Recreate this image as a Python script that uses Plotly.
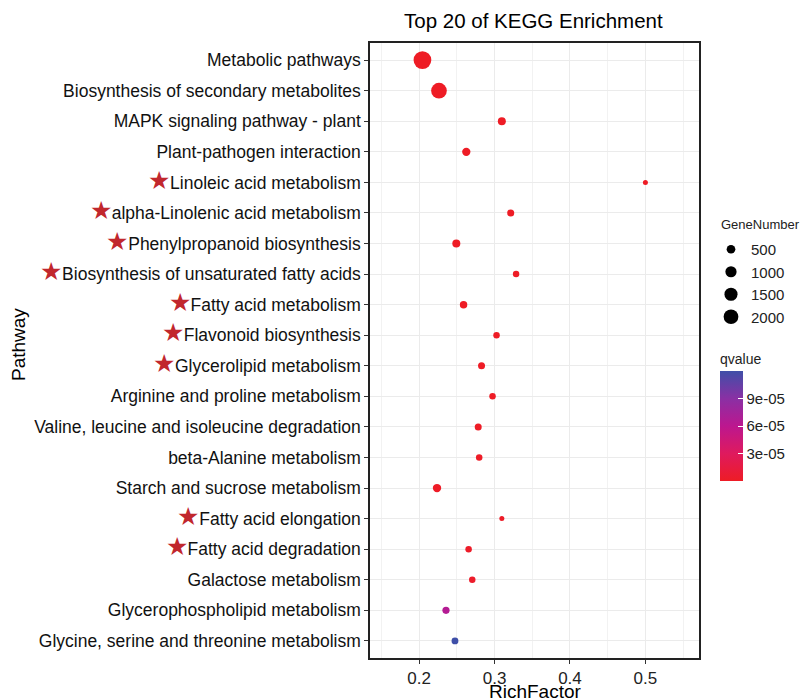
import plotly.graph_objects as go
import math

pathways = [
    "Metabolic pathways",
    "Biosynthesis of secondary metabolites",
    "MAPK signaling pathway - plant",
    "Plant-pathogen interaction",
    "Linoleic acid metabolism",
    "alpha-Linolenic acid metabolism",
    "Phenylpropanoid biosynthesis",
    "Biosynthesis of unsaturated fatty acids",
    "Fatty acid metabolism",
    "Flavonoid biosynthesis",
    "Glycerolipid metabolism",
    "Arginine and proline metabolism",
    "Valine, leucine and isoleucine degradation",
    "beta-Alanine metabolism",
    "Starch and sucrose metabolism",
    "Fatty acid elongation",
    "Fatty acid degradation",
    "Galactose metabolism",
    "Glycerophospholipid metabolism",
    "Glycine, serine and threonine metabolism",
]
starred = [False, False, False, False, True, True, True, True, True, True, True,
           False, False, False, False, True, True, False, False, False]
rich_factor = [0.2045, 0.2264, 0.3097, 0.2626, 0.5, 0.3215, 0.2494, 0.3286, 0.259,
               0.3027, 0.2828, 0.2974, 0.2784, 0.2797, 0.2238, 0.3097, 0.2657,
               0.2705, 0.2357, 0.2476]
gene_number = [3150, 2350, 390, 435, 83, 260, 390, 205, 320, 205, 260, 205, 260,
               205, 440, 83, 205, 205, 280, 240]
qvalue = [1e-30, 1e-20, 1e-12, 1e-10, 1e-9, 1e-8, 1e-8, 1e-7, 1e-7, 2e-7, 3e-7,
          4e-7, 6e-7, 8e-7, 1e-6, 1.5e-6, 2e-6, 3e-6, 6.5e-05, 1.2e-04]
legend_sizes = [500, 1000, 1500, 2000]
q_ticks = [3e-05, 6e-05, 9e-05]
q_ticktext = ["3e-05", "6e-05", "9e-05"]
x_ticks = [0.2, 0.3, 0.4, 0.5]


def diam(v):
    return 2.9 + 0.265 * math.sqrt(max(v - 20, 0))


FONT = "Liberation Sans, Arial, sans-serif"
L, R, T, B = 370, 104, 43, 40
W, H = 803, 698
pw, ph = W - L - R, H - T - B

def px_x(p):
    return (p - L) / pw

def px_y(p):
    return (H - B - p) / ph

ticktext = []
for name, s in zip(pathways, starred):
    if s:
        ticktext.append('<span style="color:#C1272D;font-size:25px">★</span>' + name)
    else:
        ticktext.append(name)

colorscale = [[0, "#EE1C25"], [0.25, "#DF1A5E"], [0.5, "#BC178F"],
              [0.75, "#8A30A4"], [1, "#3F4FA8"]]

fig = go.Figure()
fig.add_trace(go.Scatter(
    x=rich_factor, y=list(range(len(pathways))), mode="markers",
    marker=dict(size=[diam(g) for g in gene_number], color=qvalue, opacity=1,
                colorscale=colorscale, cmin=0, cmax=1.2e-4,
                line=dict(width=0),
                colorbar=dict(title=dict(text="qvalue", side="top",
                                         font=dict(size=14, family=FONT, color="#222")),
                              x=px_x(720), xanchor="left", y=px_y(481), yanchor="bottom",
                              len=131, lenmode="pixels", thickness=23,
                              outlinewidth=0, tickvals=q_ticks, ticktext=q_ticktext,
                              ticks="inside", tickcolor="white", ticklen=5,
                              ypad=0, xpad=0,
                              tickfont=dict(size=15, family=FONT, color="#222"))),
    showlegend=False, hoverinfo="skip"))

for i, s in enumerate(legend_sizes):
    fig.add_trace(go.Scatter(
        x=[None], y=[None], mode="markers", name=str(s), legendgroup=str(i),
        marker=dict(size=diam(s), color="black"), showlegend=True))

fig.update_layout(
    width=W, height=H, margin=dict(l=L, r=R, t=T, b=B, autoexpand=False),
    paper_bgcolor="white", plot_bgcolor="white",
    font=dict(family=FONT, color="black"),
    legend=dict(x=px_x(711), xanchor="left", y=px_y(233), yanchor="top",
                itemsizing="trace", tracegroupgap=0,
                font=dict(size=15, family=FONT, color="#222"), bgcolor="rgba(0,0,0,0)"),
    xaxis=dict(range=[0.135, 0.571], tickvals=x_ticks, ticktext=[str(t) for t in x_ticks],
               showgrid=True, gridcolor="#EBEBEB", gridwidth=1,
               minor=dict(dtick=0.05, tick0=0.15, showgrid=True, gridcolor="#F2F2F2", gridwidth=1),
               showline=True, mirror=True, linecolor="#222", linewidth=1.5,
               ticks="outside", ticklen=4, tickcolor="#333",
               tickfont=dict(size=17, family=FONT, color="#222"), zeroline=False),
    yaxis=dict(range=[len(pathways) - 0.44, -0.56], tickvals=list(range(len(pathways))),
               ticktext=ticktext, showgrid=True, gridcolor="#EBEBEB", gridwidth=1,
               showline=True, mirror=True, linecolor="#222", linewidth=1.5,
               ticks="outside", ticklen=4, tickcolor="#333",
               tickfont=dict(size=17.5, family=FONT, color="#111"), zeroline=False),
    annotations=[
        dict(text="Top 20 of KEGG Enrichment", x=px_x(533), y=px_y(21), xref="paper",
             yref="paper", showarrow=False, xanchor="center", yanchor="middle",
             font=dict(size=20.5, family=FONT, color="black")),
        dict(text="GeneNumber", x=px_x(719), y=px_y(225), xref="paper", yref="paper",
             showarrow=False, xanchor="left", yanchor="middle",
             font=dict(size=13, family=FONT, color="#222")),
        dict(text="RichFactor", x=px_x(535), y=px_y(691), xref="paper", yref="paper",
             showarrow=False, xanchor="center", yanchor="middle",
             font=dict(size=19, family=FONT, color="black")),
        dict(text="Pathway", x=px_x(18), y=px_y(345), xref="paper", yref="paper",
             showarrow=False, xanchor="center", yanchor="middle", textangle=-90,
             font=dict(size=19, family=FONT, color="black")),
    ],
)

fig.write_html("out.html", config={"displayModeBar": False},
               post_script="document.body.style.margin='0';document.body.style.overflow='hidden';")
